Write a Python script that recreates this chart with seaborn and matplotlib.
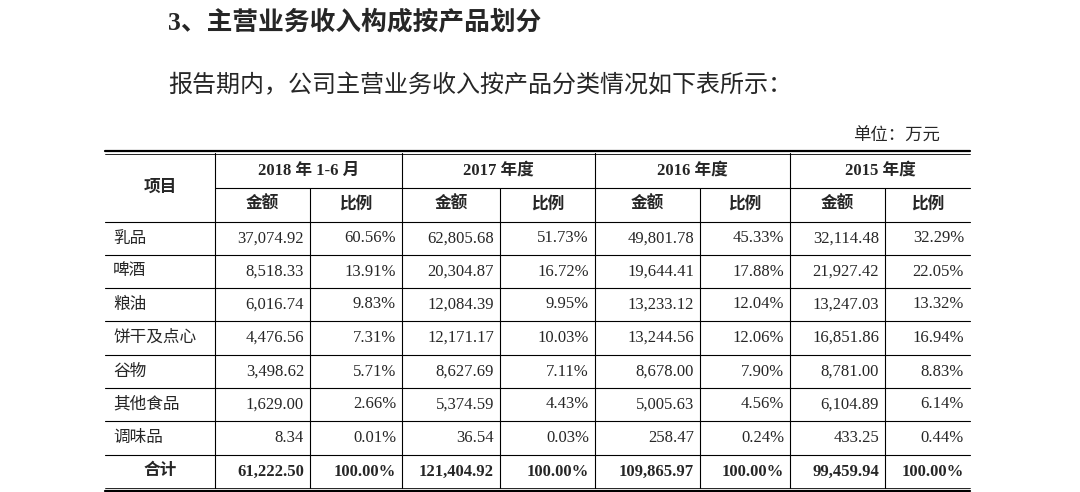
import matplotlib
matplotlib.use("Agg")
import matplotlib.pyplot as plt
import seaborn as sns

sns.set_theme(style="white")
plt.rcParams['font.family'] = ['Liberation Serif', 'Noto Sans CJK SC', 'DejaVu Sans']

title = "3、主营业务收入构成按产品划分"
subtitle = "报告期内，公司主营业务收入按产品分类情况如下表所示："
unit = "单位：万元"
periods = ["2018 年 1-6 月", "2017 年度", "2016 年度", "2015 年度"]
items = ["乳品", "啤酒", "粮油", "饼干及点心", "谷物", "其他食品", "调味品", "合计"]
amt_2018 = ["37,074.92", "8,518.33", "6,016.74", "4,476.56", "3,498.62", "1,629.00", "8.34", "61,222.50"]
pct_2018 = ["60.56%", "13.91%", "9.83%", "7.31%", "5.71%", "2.66%", "0.01%", "100.00%"]
amt_2017 = ["62,805.68", "20,304.87", "12,084.39", "12,171.17", "8,627.69", "5,374.59", "36.54", "121,404.92"]
pct_2017 = ["51.73%", "16.72%", "9.95%", "10.03%", "7.11%", "4.43%", "0.03%", "100.00%"]
amt_2016 = ["49,801.78", "19,644.41", "13,233.12", "13,244.56", "8,678.00", "5,005.63", "258.47", "109,865.97"]
pct_2016 = ["45.33%", "17.88%", "12.04%", "12.06%", "7.90%", "4.56%", "0.24%", "100.00%"]
amt_2015 = ["32,114.48", "21,927.42", "13,247.03", "16,851.86", "8,781.00", "6,104.89", "433.25", "99,459.94"]
pct_2015 = ["32.29%", "22.05%", "13.32%", "16.94%", "8.83%", "6.14%", "0.44%", "100.00%"]

cols = [amt_2018, pct_2018, amt_2017, pct_2017, amt_2016, pct_2016, amt_2015, pct_2015]

fig = plt.figure(figsize=(10.8, 4.92), dpi=100)
ax = fig.add_axes([0, 0, 1, 1])
ax.set_xlim(0, 1080); ax.set_ylim(492, 0); ax.axis("off")

ax.text(168, 22, title, fontsize=18.5, fontweight="bold", va="center", ha="left")
ax.text(168, 86, subtitle, fontsize=17.3, va="center", ha="left")
ax.text(940, 137, unit, fontsize=12.5, va="center", ha="right")

xe = [105, 215, 310, 402, 500, 595, 700, 790, 885, 970]
ye = [153, 188, 222, 255, 288, 321, 355, 388, 421, 455, 488]
lw = 0.8
ax.plot([xe[0], xe[-1]], [ye[0] - 2, ye[0] - 2], color="black", lw=1.6)
ax.plot([xe[0], xe[-1]], [ye[0] + 1, ye[0] + 1], color="black", lw=0.6)
ax.plot([xe[0], xe[-1]], [ye[-1], ye[-1]], color="black", lw=0.6)
ax.plot([xe[0], xe[-1]], [ye[-1] + 3, ye[-1] + 3], color="black", lw=1.6)
ax.plot([xe[1], xe[-1]], [ye[1], ye[1]], color="black", lw=lw)
for y in ye[2:-1]:
    ax.plot([xe[0], xe[-1]], [y, y], color="black", lw=lw)
for i, x in enumerate(xe[1:-1], start=1):
    y0 = ye[1] if i in (2, 4, 6, 8) else ye[0]
    ax.plot([x, x], [y0, ye[-1]], color="black", lw=lw)

fs = 12
ax.text((xe[0] + xe[1]) / 2, (ye[0] + ye[2]) / 2, "项目", fontsize=fs, fontweight="bold", ha="center", va="center")
for k, p in enumerate(periods):
    ax.text((xe[1 + 2 * k] + xe[3 + 2 * k]) / 2, (ye[0] + ye[1]) / 2, p, fontsize=fs, fontweight="bold", ha="center", va="center")
    ax.text((xe[1 + 2 * k] + xe[2 + 2 * k]) / 2, (ye[1] + ye[2]) / 2, "金额", fontsize=fs, fontweight="bold", ha="center", va="center")
    ax.text((xe[2 + 2 * k] + xe[3 + 2 * k]) / 2, (ye[1] + ye[2]) / 2, "比例", fontsize=fs, fontweight="bold", ha="center", va="center")

for r, it in enumerate(items):
    yc = (ye[2 + r] + ye[3 + r]) / 2
    bold = r == len(items) - 1
    if bold:
        ax.text((xe[0] + xe[1]) / 2, yc, it, fontsize=fs, fontweight="bold", ha="center", va="center")
    else:
        ax.text(xe[0] + 8, yc, it, fontsize=fs, ha="left", va="center")
    for c, col in enumerate(cols):
        ax.text(xe[c + 2] - 6, yc, col[r], fontsize=fs, ha="right", va="center",
                fontweight="bold" if bold else "normal")

fig.savefig("out.png", dpi=100, facecolor="white")
